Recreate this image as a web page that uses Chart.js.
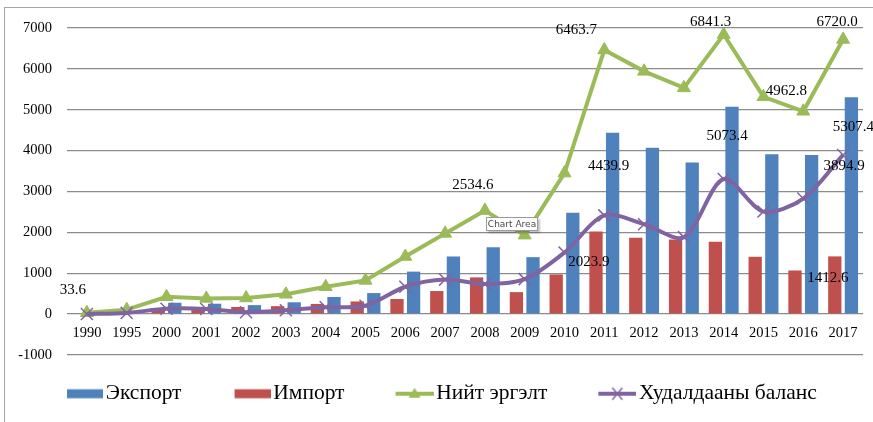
<!DOCTYPE html>
<html>
<head>
<meta charset="utf-8">
<script src="https://cdn.jsdelivr.net/npm/chart.js@4.4.1/dist/chart.umd.min.js"></script>
<style>
  html, body { margin: 0; padding: 0; background: #fff; overflow: hidden; }
  #frame { position: absolute; left: 4px; top: 7px; width: 900px; height: 440px; border: 1px solid #a6a6a6; }
  #chart { position: absolute; left: 0; top: 0; }
</style>
</head>
<body>
<div id="frame"></div>
<canvas id="chart" width="873" height="422"></canvas>
<script>
// --- ДАНІ ---
const years = ['1990', '1995', '2000', '2001', '2002', '2003', '2004', '2005', '2006', '2007',
  '2008', '2009', '2010', '2011', '2012', '2013', '2014', '2015', '2016', '2017'];
const exportVals = [19, 70, 279, 255, 220, 290, 420, 515, 1040, 1410,
  1636, 1394, 2479, 4439.9, 4070, 3709, 5073.4, 3912, 3895, 5307.4];
const importVals = [14.6, 40, 146, 129, 175, 195, 250, 310, 370, 565,
  898.6, 538, 971, 2023.9, 1870, 1826, 1767.9, 1403, 1068, 1412.6];
const totalVals = [33.6, 110, 425, 384, 395, 485, 670, 825, 1410, 1975,
  2534.6, 1932, 3450, 6463.7, 5940, 5535, 6841.3, 5315, 4962.8, 6720.0];
const balanceVals = [4.4, 30, 133, 126, 45, 95, 170, 205, 670, 845,
  737.4, 856, 1508, 2416, 2200, 1883, 3305.4, 2509, 2827, 3894.9];
const seriesNames = ['Экспорт', 'Импорт', 'Нийт эргэлт', 'Худалдааны баланс'];
const yTicks = { min: -1000, max: 7000, step: 1000 };

const colors = ['#4F81BD', '#C0504D', '#9BBB59', '#8064A2'];
const serif = '"Liberation Serif", "Times New Roman", serif';

// підписи значень: [dataset, index, dx, dy]
const valueLabels = [
  [2, 0, -14, -23], [2, 10, -12, -25], [2, 13, -28, -20], [0, 13, -4, 33],
  [1, 13, -7, 31], [2, 16, -13, -12], [0, 16, -5, 29], [2, 18, -17, -20],
  [2, 19, -6, -17], [0, 19, 2, 30], [3, 19, 1, 11], [1, 19, -7, 22]
];

// --- ЛЕГЕНДА: маленькі картинки-зразки ---
const BOX_W = 53;
const makeSwatch = (i) => {
  const c = document.createElement('canvas');
  c.width = BOX_W + 16; c.height = 16;
  const g = c.getContext('2d');
  if (i < 2) {
    g.fillStyle = colors[i];
    g.fillRect(c.width - 36, 3.5, 36, 9);
  } else {
    const x0 = c.width - 38, cx = c.width - 19, cy = 8;
    g.strokeStyle = colors[i]; g.lineWidth = 4;
    g.beginPath(); g.moveTo(x0, cy); g.lineTo(c.width, cy); g.stroke();
    if (i === 2) {
      g.fillStyle = colors[i];
      g.beginPath(); g.moveTo(cx, cy - 6); g.lineTo(cx + 6, cy + 4); g.lineTo(cx - 6, cy + 4); g.closePath(); g.fill();
    } else {
      g.lineWidth = 1.5;
      g.beginPath(); g.moveTo(cx - 5, cy - 6); g.lineTo(cx + 5, cy + 6); g.moveTo(cx + 5, cy - 6); g.lineTo(cx - 5, cy + 6); g.stroke();
    }
  }
  return c;
};
const swatches = [0, 1, 2, 3].map(makeSwatch);

// --- ПЛАГІНИ ---
const valueLabelPlugin = {
  id: 'valueLabels',
  afterDatasetsDraw(chart) {
    const ctx = chart.ctx;
    ctx.save();
    ctx.font = `15px ${serif}`;
    ctx.fillStyle = '#000';
    ctx.textAlign = 'center';
    ctx.textBaseline = 'middle';
    valueLabels.forEach(([ds, i, dx, dy]) => {
      const el = chart.getDatasetMeta(ds).data[i];
      const v = chart.data.datasets[ds].data[i];
      ctx.fillText(Number(v).toFixed(1), el.x + dx, el.y + dy);
    });
    ctx.restore();
  }
};

const hoverTipPlugin = {
  id: 'chartAreaTip',
  afterDraw(chart) {
    const ctx = chart.ctx;
    ctx.save();
    ctx.shadowColor = 'rgba(0,0,0,0.25)';
    ctx.shadowOffsetX = 1.5; ctx.shadowOffsetY = 1.5; ctx.shadowBlur = 2;
    ctx.fillStyle = '#fff';
    ctx.fillRect(486, 217, 52, 14);
    ctx.shadowColor = 'transparent';
    ctx.strokeStyle = '#9a9a9a'; ctx.lineWidth = 1;
    ctx.strokeRect(486.5, 217.5, 51, 13);
    ctx.fillStyle = '#4a4a4a';
    ctx.font = '9px "DejaVu Sans", sans-serif';
    ctx.textAlign = 'center'; ctx.textBaseline = 'middle';
    ctx.fillText('Chart Area', 512, 224.5);
    ctx.restore();
  }
};

// --- ГРАФІК ---
new Chart(document.getElementById('chart'), {
  type: 'bar',
  data: {
    labels: years,
    datasets: [
      { label: seriesNames[0], data: exportVals, backgroundColor: colors[0], order: 3,
        categoryPercentage: 0.835, barPercentage: 0.8 },
      { label: seriesNames[1], data: importVals, backgroundColor: colors[1], order: 2,
        categoryPercentage: 0.835, barPercentage: 0.8 },
      { type: 'line', label: seriesNames[2], data: totalVals, borderColor: colors[2], backgroundColor: colors[2],
        borderWidth: 4, tension: 0, pointStyle: 'triangle', pointRadius: 7.5,
        pointBackgroundColor: colors[2], pointBorderColor: colors[2], pointBorderWidth: 1, order: 1 },
      { type: 'line', label: seriesNames[3], data: balanceVals, borderColor: colors[3], backgroundColor: colors[3],
        borderWidth: 4, tension: 0.3, pointStyle: 'crossRot', pointRadius: 8.5,
        pointBorderColor: colors[3], pointBorderWidth: 1.5, order: 0 }
    ]
  },
  options: {
    responsive: false,
    devicePixelRatio: 1,
    animation: false,
    layout: { padding: { left: 14, right: 8, top: 28, bottom: 7.5 } },
    plugins: {
      tooltip: { enabled: false },
      legend: {
        position: 'bottom',
        align: 'start',
        labels: {
          usePointStyle: true,
          pointStyleWidth: BOX_W,
          padding: 28,
          color: '#000',
          font: { family: serif, size: 21.5 },
          generateLabels: (chart) => Chart.defaults.plugins.legend.labels.generateLabels(chart)
            .sort((a, b) => a.datasetIndex - b.datasetIndex)
            .map((it) => ({ ...it, pointStyle: swatches[it.datasetIndex] }))
        }
      }
    },
    scales: {
      x: {
        position: { y: 0 },
        grid: { display: false, drawTicks: false },
        border: { display: false },
        ticks: { color: '#000', font: { family: serif, size: 14.5 }, padding: 10, maxRotation: 0, autoSkip: false }
      },
      y: {
        min: yTicks.min, max: yTicks.max,
        afterFit: (s) => { s.width = 53; },
        grid: { color: '#8c8c8c', lineWidth: 1.3, drawTicks: false },
        border: { display: false },
        ticks: { stepSize: yTicks.step, color: '#000', font: { family: serif, size: 14.5 }, padding: 15,
          callback: (v) => String(v) }
      }
    }
  },
  plugins: [valueLabelPlugin, hoverTipPlugin]
});
</script>
</body>
</html>
